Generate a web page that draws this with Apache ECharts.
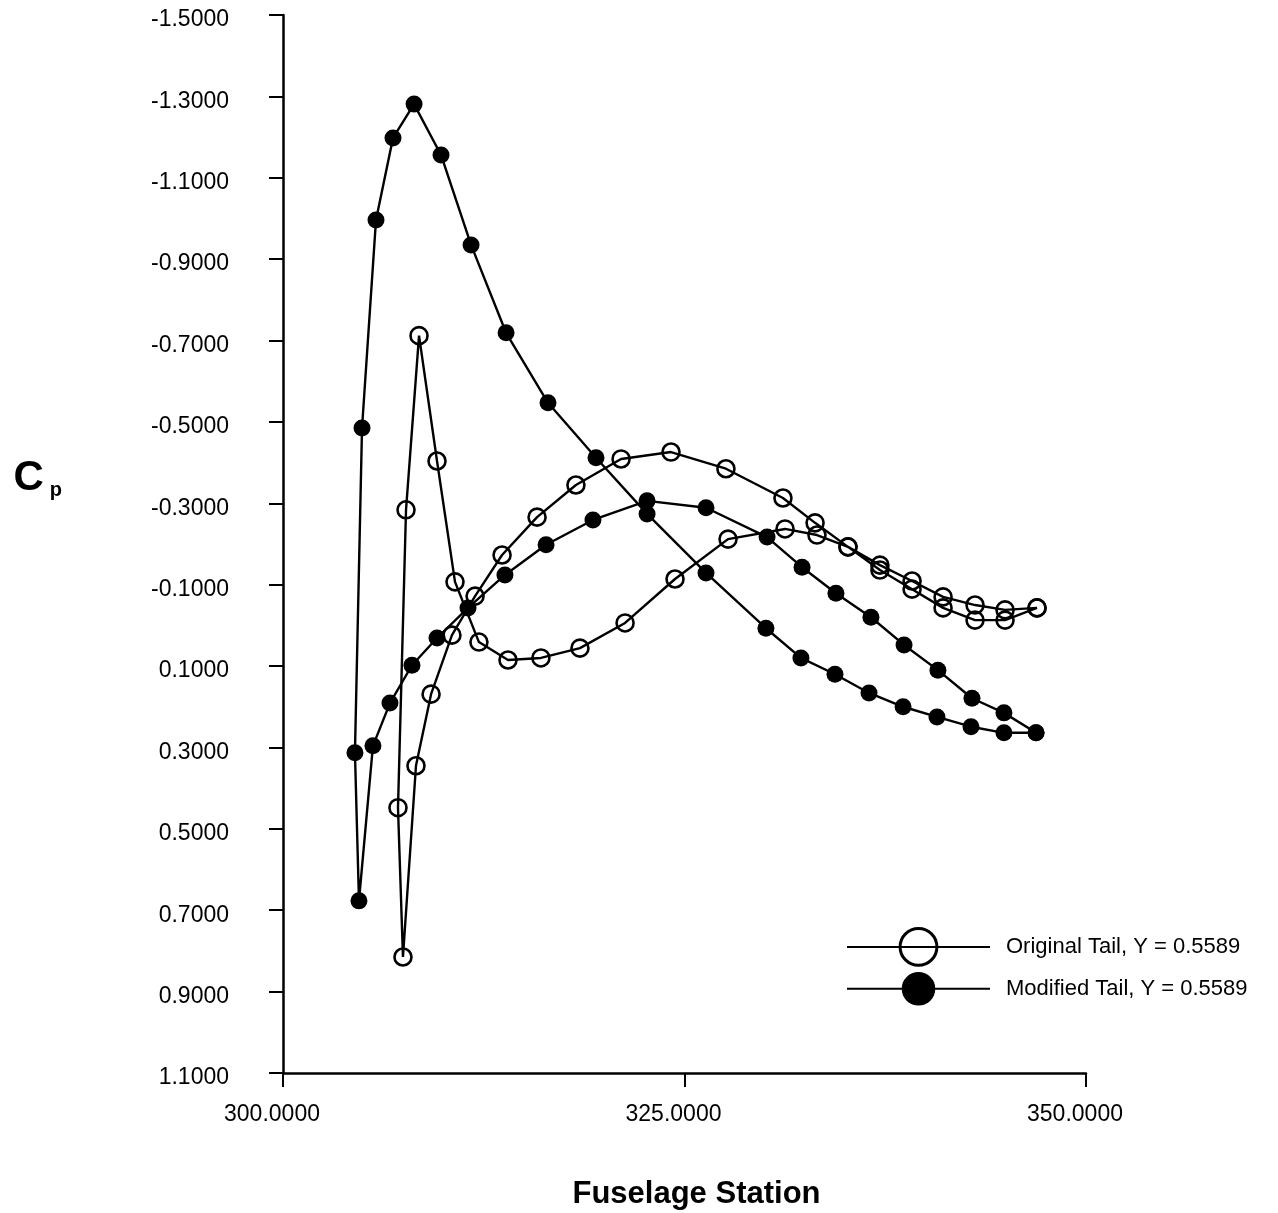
<!DOCTYPE html>
<html>
<head>
<meta charset="utf-8">
<script src="https://cdn.jsdelivr.net/npm/echarts@6/dist/echarts.min.js"></script>
<style>
  html, body { margin: 0; padding: 0; background: #fff; }
  #main { width: 1278px; height: 1213px; }
</style>
</head>
<body>
<div id="main"></div>
<script>
// Cp vs fuselage station
var originalX = [346.95, 344.96, 343.09, 341.10, 339.17, 337.17, 335.18, 333.13, 331.13, 327.58,
  324.16, 321.05, 318.24, 315.82, 313.64, 311.96, 310.52, 309.22, 308.28, 307.47,
  307.16, 307.66, 308.47, 309.59, 310.71, 312.20, 314.01, 316.06, 318.49, 321.30,
  324.41, 327.71, 331.26, 333.25, 335.18, 337.17, 339.17, 341.10, 343.09, 344.96, 346.95];
var originalCp = [-0.043, -0.038, -0.050, -0.070, -0.109, -0.148, -0.193, -0.252, -0.313, -0.385,
  -0.426, -0.409, -0.345, -0.266, -0.173, -0.072, 0.024, 0.169, 0.345, 0.815,
  0.448, -0.284, -0.712, -0.404, -0.107, 0.041, 0.085, 0.080, 0.056, -0.006,
  -0.114, -0.212, -0.237, -0.222, -0.193, -0.136, -0.089, -0.043, -0.013, -0.013, -0.043];

var modifiedX = [346.89, 344.89, 342.84, 340.72, 338.61, 336.49, 334.37, 332.25, 330.07, 326.34,
  322.67, 319.49, 316.50, 313.89, 311.71, 309.84, 308.16, 306.85, 305.79, 304.92,
  304.48, 304.73, 305.60, 306.66, 308.03, 309.59, 311.52, 313.82, 316.38, 319.30,
  322.67, 326.34, 330.14, 332.32, 334.43, 336.61, 338.67, 340.78, 342.90, 344.89, 346.89];
var modifiedCp = [0.264, 0.264, 0.249, 0.225, 0.200, 0.166, 0.120, 0.080, 0.007, -0.129,
  -0.274, -0.412, -0.547, -0.719, -0.935, -1.156, -1.281, -1.198, -0.996, -0.485,
  0.313, 0.677, 0.296, 0.191, 0.098, 0.031, -0.043, -0.124, -0.198, -0.259,
  -0.306, -0.289, -0.217, -0.143, -0.079, -0.020, 0.048, 0.110, 0.179, 0.215, 0.264];

var yTicks = [-1.5, -1.3, -1.1, -0.9, -0.7, -0.5, -0.3, -0.1, 0.1, 0.3, 0.5, 0.7, 0.9, 1.1];
var xTicks = [300, 325, 350];

var seriesNames = ["Original Tail, Y = 0.5589", "Modified Tail, Y = 0.5589"];

function pairs(xs, ys) {
  var out = [];
  for (var i = 0; i < xs.length; i++) out.push([xs[i], ys[i]]);
  return out;
}

var FONT = '"Liberation Sans", Arial, Helvetica, sans-serif';

var myChart = echarts.init(document.getElementById("main"));
var option = {
  backgroundColor: "#fff",
  animation: false,
  textStyle: { fontFamily: FONT, color: "#000" },
  grid: { left: 283, right: 192, top: 15, bottom: 140, containLabel: false, outerBoundsMode: "none" },
  legend: [
    {
      data: [seriesNames[0]],
      left: 841, top: 922,
      itemWidth: 143, itemHeight: 46,
      itemStyle: { borderWidth: 3 },
      lineStyle: { width: 2, color: "#000" },
      textStyle: { fontFamily: FONT, fontSize: 22, color: "#000", padding: [12, 0, 0, 11] }
    },
    {
      data: [seriesNames[1]],
      left: 841, top: 967,
      itemWidth: 143, itemHeight: 42,
      lineStyle: { width: 2, color: "#000" },
      textStyle: { fontFamily: FONT, fontSize: 22, color: "#000", padding: [4, 0, 0, 11] }
    }
  ],
  xAxis: {
    type: "value",
    min: 300, max: 350, interval: 25,
    name: "Fuselage Station",
    nameLocation: "middle",
    nameGap: 106,
    nameTextStyle: { fontFamily: FONT, fontSize: 31, fontWeight: "bold", color: "#000", padding: [0, 0, 0, 24] },
    axisLine: { onZero: false, lineStyle: { color: "#000", width: 2.5 } },
    axisTick: { show: true, length: 14, customValues: xTicks, lineStyle: { color: "#000", width: 2 } },
    axisLabel: {
      customValues: xTicks,
      margin: 30,
      fontSize: 23,
      color: "#000",
      padding: [0, 22, 0, 0],
      formatter: function (v) { return v.toFixed(4); }
    },
    splitLine: { show: false }
  },
  yAxis: {
    type: "value",
    inverse: true,
    min: -1.5, max: 1.1,
    name: "{c|C}{p|p}",
    nameLocation: "middle",
    nameRotate: 0,
    nameGap: 221,
    nameTextStyle: {
      padding: [0, 0, 132, 0],
      rich: {
        c: { fontFamily: FONT, fontSize: 42, fontWeight: "bold", color: "#000" },
        p: { fontFamily: FONT, fontSize: 20, fontWeight: "bold", color: "#000", padding: [24, 0, 0, 6] }
      }
    },
    axisLine: { onZero: false, lineStyle: { color: "#000", width: 2.5 } },
    axisTick: { show: true, length: 14, customValues: yTicks, lineStyle: { color: "#000", width: 2 } },
    axisLabel: {
      customValues: yTicks,
      margin: 54,
      fontSize: 23,
      color: "#000",
      verticalAlign: "top",
      lineHeight: 10,
      formatter: function (v) { return v.toFixed(4); }
    },
    splitLine: { show: false }
  },
  series: [
    {
      name: seriesNames[0],
      type: "line",
      data: pairs(originalX, originalCp),
      symbol: "circle",
      symbolSize: 17,
      lineStyle: { color: "#000", width: 2.4 },
      itemStyle: { color: "rgba(0,0,0,0)", borderColor: "#000", borderWidth: 2.6 },
      emphasis: { disabled: true }
    },
    {
      name: seriesNames[1],
      type: "line",
      data: pairs(modifiedX, modifiedCp),
      symbol: "circle",
      symbolSize: 17,
      lineStyle: { color: "#000", width: 2.4 },
      itemStyle: { color: "#000" },
      emphasis: { disabled: true }
    }
  ]
};
myChart.setOption(option);
</script>
</body>
</html>
